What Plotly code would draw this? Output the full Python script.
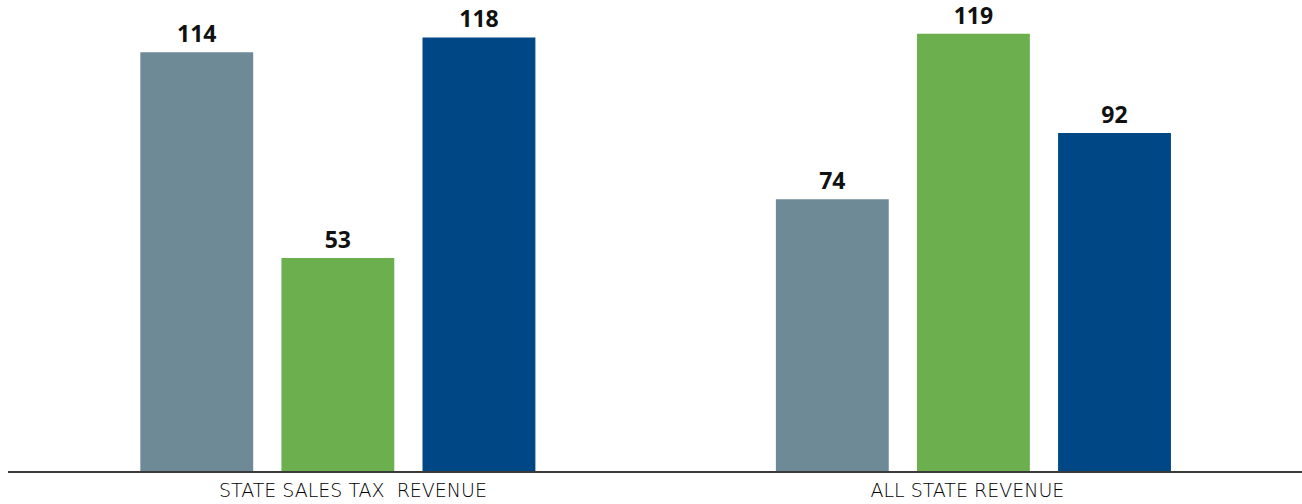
import plotly.graph_objects as go

categories = ["STATE SALES TAX  REVENUE", "ALL STATE REVENUE"]
series_names = ["Series 1", "Series 2", "Series 3"]
# bar heights
series1_values = [114, 74]
series2_values = [58, 119]
series3_values = [118, 92]
# value labels as printed above the bars
series1_labels = ["114", "74"]
series2_labels = ["53", "119"]
series3_labels = ["118", "92"]

colors = ["#6E8A96", "#6CAF4E", "#004785"]

NB = "\u00a0"
tick_text = [NB * 5 + categories[0], categories[1] + NB * 2]

fig = go.Figure()
for name, vals, labs, col in zip(
    series_names,
    [series1_values, series2_values, series3_values],
    [series1_labels, series2_labels, series3_labels],
    colors,
):
    fig.add_trace(go.Bar(
        name=name,
        x=categories,
        y=vals,
        text=labs,
        textposition="outside",
        texttemplate="%{text}",
        textfont=dict(family="Open Sans", size=23, color="#111111", weight=700),
        marker=dict(color=col, line=dict(width=0)),
        cliponaxis=False,
    ))

fig.update_layout(
    width=1302,
    height=504,
    margin=dict(l=8, r=0, t=0, b=33),
    paper_bgcolor="white",
    plot_bgcolor="white",
    barmode="group",
    bargap=0.334,
    bargroupgap=0.2,
    showlegend=False,
    uniformtext=dict(mode=False),
    xaxis=dict(
        range=[-0.519, 1.517],
        tickmode="array",
        tickvals=categories,
        ticktext=tick_text,
        showline=True,
        linecolor="#3A3A3A",
        linewidth=2,
        showgrid=False,
        ticks="",
        automargin=False,
        ticklabelstandoff=1,
        tickfont=dict(family="DejaVu Sans", size=19, color="#000000", weight=200),
        fixedrange=True,
    ),
    yaxis=dict(
        range=[0, 128.2],
        visible=False,
        showgrid=False,
        zeroline=False,
        fixedrange=True,
    ),
)

fig.write_html("out.html")
